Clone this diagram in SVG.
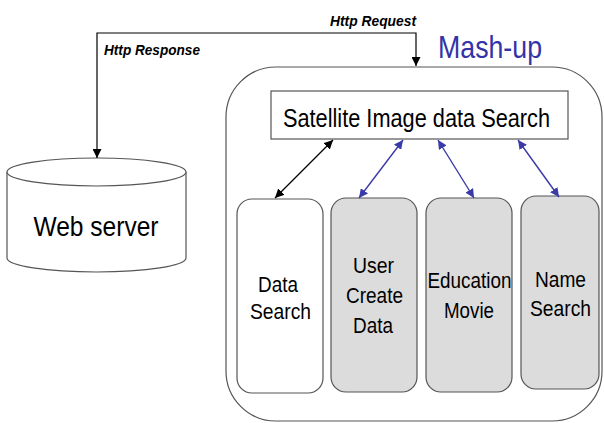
<svg xmlns="http://www.w3.org/2000/svg" width="604" height="423" viewBox="0 0 604 423">
<style>
.t{font-family:"Liberation Sans",Arial,sans-serif;fill:#000;text-anchor:middle}
.lbl{font-family:"Liberation Sans",Arial,sans-serif;font-weight:bold;font-style:italic;font-size:14px;fill:#000}
.box{fill:#fff;stroke:#555;stroke-width:1.2}
.gbox{fill:#dcdcdc;stroke:#555;stroke-width:1.2}
.k{fill:none;stroke:#000;stroke-width:1.2}
.b{fill:none;stroke:#3a3aa8;stroke-width:1.4}
</style>
<defs>
<marker id="ak" viewBox="0 0 10 10" refX="10" refY="5" markerWidth="9" markerHeight="9" markerUnits="userSpaceOnUse" orient="auto-start-reverse"><path d="M0,0 L10,5 L0,10 z" fill="#000"/></marker>
<marker id="ab" viewBox="0 0 10 10" refX="10" refY="5" markerWidth="9" markerHeight="9" markerUnits="userSpaceOnUse" orient="auto-start-reverse"><path d="M0,0 L10,5 L0,10 z" fill="#3a3aa8"/></marker>
</defs>
<rect width="604" height="423" fill="#fff"/>
<g id="mashup">
<rect x="226" y="67" width="376" height="354" rx="50" ry="50" fill="#fff" stroke="#555" stroke-width="1.2"/>
<text x="438" y="58" font-family="'Liberation Sans',Arial,sans-serif" font-size="32" fill="#3333a8" textLength="104" lengthAdjust="spacingAndGlyphs">Mash-up</text>
</g>
<g id="webserver">
<path d="M7,172 L7,258 A89.5,14 0 0 0 186,258 L186,172" fill="#fff" stroke="#555" stroke-width="1.2"/>
<ellipse cx="96.5" cy="172" rx="89.5" ry="14" fill="#fff" stroke="#555" stroke-width="1.2"/>
<text class="t" x="96" y="236" font-size="27" textLength="125" lengthAdjust="spacingAndGlyphs">Web server</text>
</g>
<g id="satellite">
<rect class="box" x="271" y="91" width="297" height="48"/>
<text class="t" x="416.5" y="127" font-size="26" textLength="267" lengthAdjust="spacingAndGlyphs">Satellite Image data Search</text>
</g>
<g id="datasearch">
<rect class="box" x="237" y="199" width="86" height="194" rx="15"/>
<text class="t" x="278" y="292" font-size="22" textLength="40" lengthAdjust="spacingAndGlyphs">Data</text>
<text class="t" x="280.5" y="319" font-size="22" textLength="61" lengthAdjust="spacingAndGlyphs">Search</text>
</g>
<g id="usercreate">
<rect class="gbox" x="331" y="198" width="86" height="194" rx="15"/>
<text class="t" x="373.5" y="273" font-size="22" textLength="41" lengthAdjust="spacingAndGlyphs">User</text>
<text class="t" x="374.5" y="303" font-size="22" textLength="57" lengthAdjust="spacingAndGlyphs">Create</text>
<text class="t" x="373" y="333" font-size="22" textLength="40" lengthAdjust="spacingAndGlyphs">Data</text>
</g>
<g id="education">
<rect class="gbox" x="426" y="198" width="86" height="194" rx="15"/>
<text class="t" x="469.5" y="288" font-size="22" textLength="84" lengthAdjust="spacingAndGlyphs">Education</text>
<text class="t" x="469" y="318" font-size="22" textLength="50" lengthAdjust="spacingAndGlyphs">Movie</text>
</g>
<g id="namesearch">
<rect class="gbox" x="521" y="196" width="78" height="193" rx="15"/>
<text class="t" x="560.5" y="287" font-size="22" textLength="51" lengthAdjust="spacingAndGlyphs">Name</text>
<text class="t" x="560.5" y="316" font-size="22" textLength="61" lengthAdjust="spacingAndGlyphs">Search</text>
</g>
<g id="connectors">
<path class="k" d="M97,158 L97,33 L416,33 L416,66" marker-start="url(#ak)" marker-end="url(#ak)"/>
<text class="lbl" x="330" y="26" textLength="86" lengthAdjust="spacingAndGlyphs">Http Request</text>
<text class="lbl" x="104" y="55" textLength="96" lengthAdjust="spacingAndGlyphs">Http Response</text>
<line class="k" x1="275" y1="198" x2="333" y2="140" marker-start="url(#ak)" marker-end="url(#ak)"/>
<line class="b" x1="359" y1="198" x2="403" y2="140" marker-start="url(#ab)" marker-end="url(#ab)"/>
<line class="b" x1="474" y1="198" x2="438" y2="140" marker-start="url(#ab)" marker-end="url(#ab)"/>
<line class="b" x1="559" y1="197" x2="518" y2="140" marker-start="url(#ab)" marker-end="url(#ab)"/>
</g>
</svg>
